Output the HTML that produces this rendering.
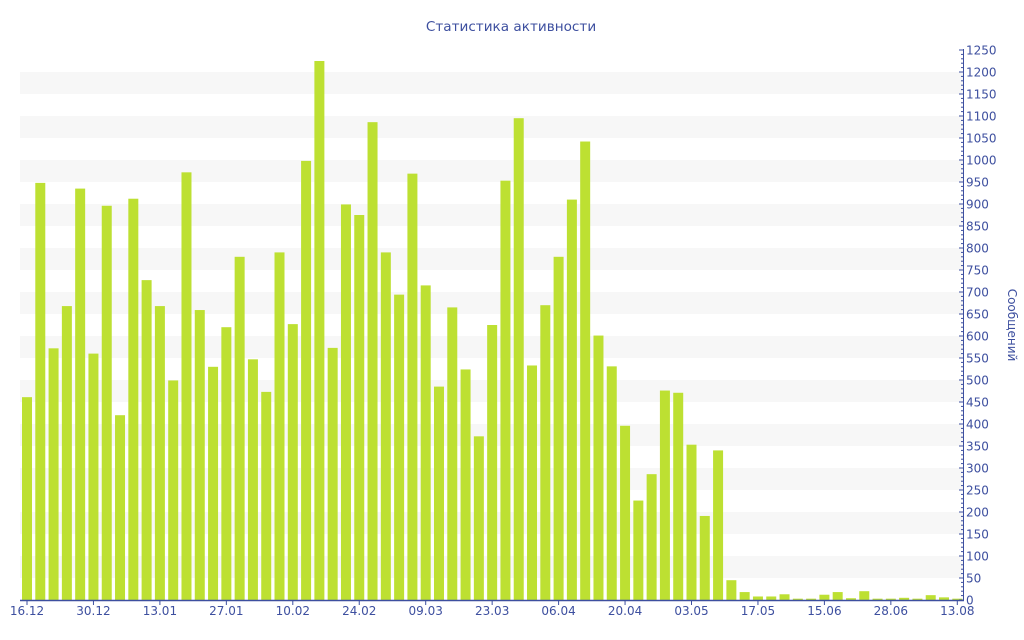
<!DOCTYPE html>
<html><head><meta charset="utf-8"><style>html,body{margin:0;padding:0;background:#fff}svg{display:block}</style></head>
<body>
<svg id="c" width="1024" height="640" xmlns="http://www.w3.org/2000/svg" font-family="DejaVu Sans, Liberation Sans, sans-serif">
<text x="511" y="31" text-anchor="middle" font-size="13.6" fill="#3d4f9f">Статистика активности</text>
<g id="bands"></g><g id="bars"></g><g id="axes"></g>
<text transform="translate(1008,325) rotate(90)" text-anchor="middle" font-size="12" fill="#3d4f9f">Сообщений</text>
</svg>
<script>
var v=[461,948,572,668,935,560,896,420,912,727,668,499,972,659,530,620,780,547,473,790,627,998,1225,573,899,875,1086,790,694,969,715,485,665,524,372,625,953,1095,533,670,780,910,1042,601,531,396,226,286,476,471,353,191,340,45,18,8,8,13,3,3,12,18,4,20,3,3,5,3,11,6,3];
var labs=["16.12","30.12","13.01","27.01","10.02","24.02","09.03","23.03","06.04","20.04","03.05","17.05","15.06","28.06","13.08"];
var NS="http://www.w3.org/2000/svg";
function el(p,t,a,txt){var e=document.createElementNS(NS,t);for(var k in a)e.setAttribute(k,a[k]);if(txt!=null)e.textContent=txt;document.getElementById(p).appendChild(e);}
var y0=600,k=550/1250;
for(var b=50;b<1250;b+=100){el("bands","rect",{x:20,y:y0-(b+50)*k,width:943,height:50*k,fill:"#f7f7f7"});}
for(var i=0;i<v.length;i++){var cx=27+i*13.29;var h=v[i]*k;el("bars","rect",{x:cx-5,y:y0-h,width:10,height:h,fill:"#bde032"});}
el("axes","line",{x1:20,y1:600.5,x2:964,y2:600.5,stroke:"#3d4f9f","stroke-width":1.5});
el("axes","line",{x1:963.5,y1:49,x2:963.5,y2:601,stroke:"#3d4f9f","stroke-width":1});
for(var t=0;t<=1250;t+=10){var y=y0-t*k;var big=t%50==0;el("axes","line",{x1:big?959:961,y1:y,x2:963.5,y2:y,stroke:"#3d4f9f","stroke-width":1});}
for(var t=0;t<=1250;t+=50){el("axes","text",{x:966,y:y0-t*k+4.5,"font-size":12,fill:"#3d4f9f"},t);}
for(var j=0;j<labs.length;j++){var x=27+j*5*13.29;el("axes","line",{x1:x,y1:600,x2:x,y2:605,stroke:"#3d4f9f"});el("axes","text",{x:x,y:615,"font-size":12,fill:"#3d4f9f","text-anchor":"middle"},labs[j]);}
</script>
</body></html>
